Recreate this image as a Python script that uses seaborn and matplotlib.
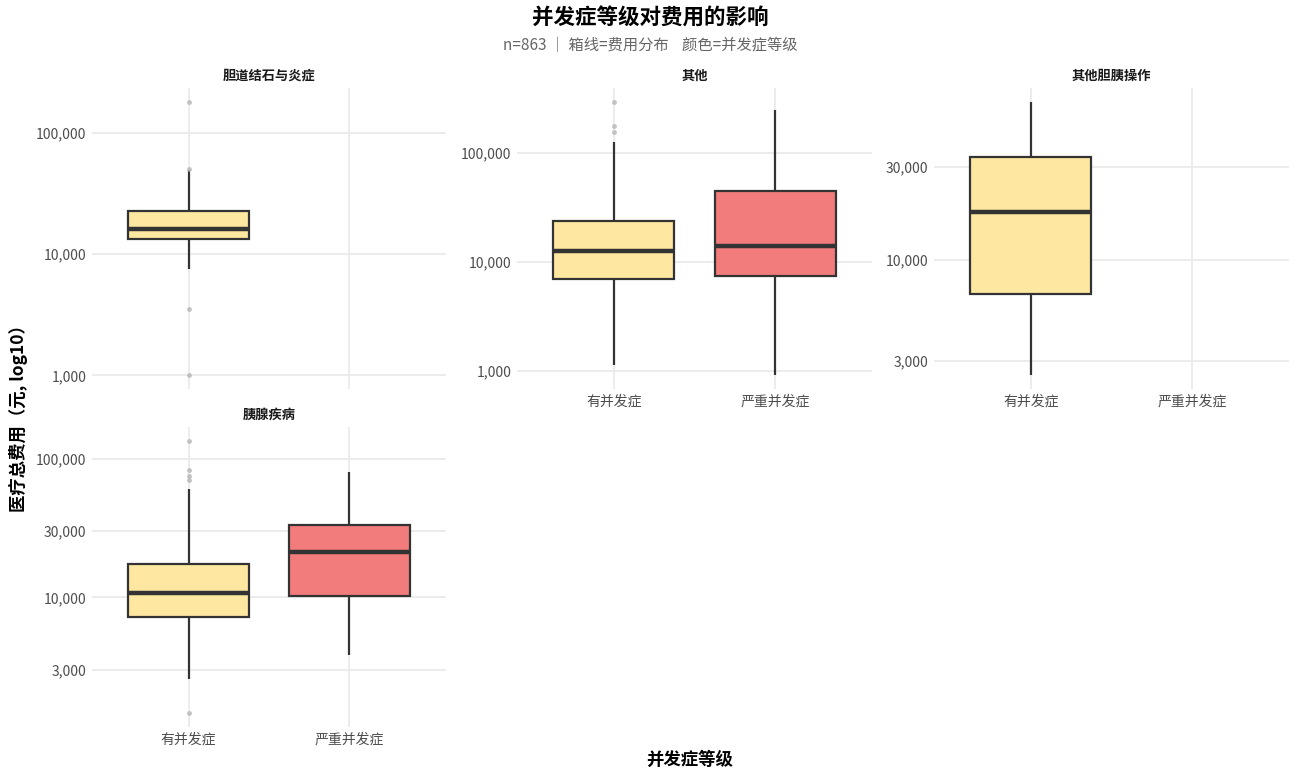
import numpy as np
import pandas as pd
import matplotlib
matplotlib.use("Agg")
import matplotlib.pyplot as plt
from matplotlib.ticker import FixedLocator, FuncFormatter, NullLocator
import seaborn as sns

# 分面与等级
facets = ["胆道结石与炎症", "其他", "其他胆胰操作", "胰腺疾病"]
levels = ["有并发症", "严重并发症"]

# 每组费用（元），按图中箱线读数整理
cost_stone_mild = [1000, 3490, 7450, 11000, 13400, 14500, 15000, 15800, 16200,
                   17500, 19000, 21000, 22600, 30000, 49000, 50500, 180000]
cost_other_mild = [1150, 3000, 4500, 6000, 6980, 8500, 10000, 11500, 12600,
                   15000, 18000, 21000, 23800, 126000, 156000, 177000, 294000]
cost_other_severe = [918, 3000, 7440, 10000, 14000, 25000, 44800, 100000, 248000]
cost_proc_mild = [2530, 6660, 17500, 33800, 65200]
cost_panc_mild = [1460, 2570, 4000, 5500, 6500, 7180, 8000, 8800, 9500, 10200, 10700,
                  12000, 13500, 15000, 16000, 17300, 60800, 70600, 75500, 83300, 135000]
cost_panc_severe = [3830, 10200, 21400, 33500, 80600]

# 各分面的 y 轴刻度
ticks_stone = [1000, 10000, 100000]
ticks_other = [1000, 10000, 100000]
ticks_proc = [3000, 10000, 30000]
ticks_panc = [3000, 10000, 30000, 100000]

groups = [
    ("胆道结石与炎症", "有并发症", cost_stone_mild),
    ("其他", "有并发症", cost_other_mild),
    ("其他", "严重并发症", cost_other_severe),
    ("其他胆胰操作", "有并发症", cost_proc_mild),
    ("胰腺疾病", "有并发症", cost_panc_mild),
    ("胰腺疾病", "严重并发症", cost_panc_severe),
]
rows = []
for fac, lev, vals in groups:
    for v in vals:
        rows.append({"类别": fac, "并发症等级": lev, "费用": v})
df = pd.DataFrame(rows)

palette = {"有并发症": "#FEE7A0", "严重并发症": "#F27B7B"}

sns.set_theme(style="whitegrid")
plt.rcParams["font.family"] = ["Noto Sans CJK SC", "DejaVu Sans"]

fig = plt.figure(figsize=(13, 7.8), dpi=100)
W, H = 1300, 780


def rect(left, top, right, bottom):
    return [left / W, 1 - bottom / H, (right - left) / W, (bottom - top) / H]


panel_rects = {
    "胆道结石与炎症": rect(92, 88, 446, 389),
    "其他": rect(517, 88, 872, 389),
    "其他胆胰操作": rect(934, 88, 1289, 389),
    "胰腺疾病": rect(92, 427, 446, 727),
}
panel_ticks = {
    "胆道结石与炎症": ticks_stone,
    "其他": ticks_other,
    "其他胆胰操作": ticks_proc,
    "胰腺疾病": ticks_panc,
}
show_xticks = {"胆道结石与炎症": False, "其他": True, "其他胆胰操作": True, "胰腺疾病": True}

for fac in facets:
    ax = fig.add_axes(panel_rects[fac])
    sub = df[df["类别"] == fac]
    sns.boxplot(
        data=sub, x="并发症等级", y="费用", hue="并发症等级",
        order=levels, hue_order=levels, palette=palette, saturation=1, legend=False,
        log_scale=True, width=0.75, showcaps=False, linecolor="#333333",
        linewidth=1.6, ax=ax,
        medianprops={"linewidth": 3.2, "color": "#333333"},
        flierprops={"marker": "o", "markersize": 3.5, "markerfacecolor": "#b5b5b5",
                    "markeredgecolor": "none", "alpha": 0.8},
    )
    ax.set_xlim(-0.6, 1.6)
    ax.margins(y=0.05)
    ax.autoscale(axis="y")
    ax.yaxis.set_major_locator(FixedLocator(panel_ticks[fac]))
    ax.yaxis.set_minor_locator(NullLocator())
    ax.yaxis.set_major_formatter(FuncFormatter(lambda v, p: f"{v:,.0f}"))
    ax.grid(True, which="major", color="#EBEBEB", linewidth=1.3)
    ax.set_axisbelow(True)
    for s in ax.spines.values():
        s.set_visible(False)
    ax.tick_params(axis="both", length=0, labelsize=10, labelcolor="#4D4D4D", pad=4)
    if not show_xticks[fac]:
        ax.set_xticklabels([])
    ax.set_xlabel("")
    ax.set_ylabel("")
    ax.set_title(fac, fontsize=9.5, fontweight="bold", color="#1a1a1a", pad=6)

fig.text(0.5, 1 - 18 / H, "并发症等级对费用的影响", ha="center", va="center",
         fontsize=15.5, fontweight="bold", color="black")
fig.text(0.5, 1 - 45 / H, "n=863 ｜ 箱线=费用分布    颜色=并发症等级", ha="center", va="center",
         fontsize=11, color="#666666")
fig.text(18 / W, 1 - 414 / H, "医疗总费用（元, log10）", ha="center", va="center",
         rotation=90, fontsize=12.5, fontweight="bold", color="black")
fig.text(690 / W, 1 - 760 / H, "并发症等级", ha="center", va="center",
         fontsize=12.5, fontweight="bold", color="black")

fig.savefig("out.png", dpi=100, facecolor="white")
